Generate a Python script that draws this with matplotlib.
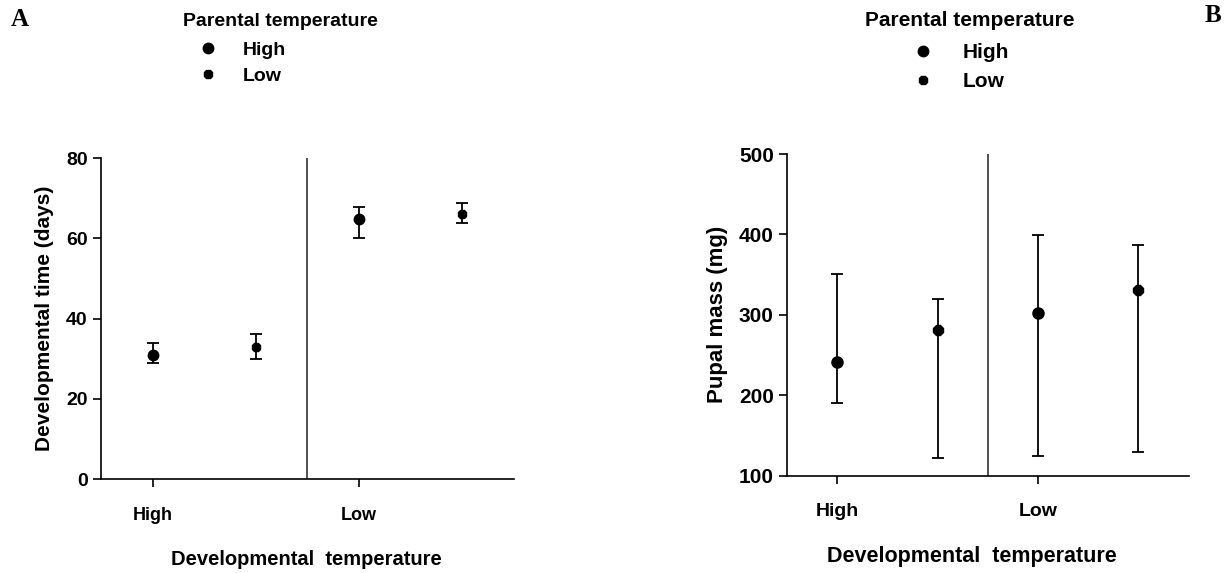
"""
Developmental time and pupal mass by developmental / parental temperature
"""

import numpy as np
import matplotlib.pyplot as plt
from matplotlib.lines import Line2D

dev_temps = ['High', 'Low']
par_temps = ['High', 'Low']

# order: (dev High, par High), (dev High, par Low), (dev Low, par High), (dev Low, par Low)
dev_time_mean = [30.9, 32.9, 64.8, 66.0]
dev_time_upper = [33.9, 36.2, 67.9, 68.9]
dev_time_lower = [28.9, 29.9, 60.1, 63.9]

pupal_mean = [242, 281, 302, 331]
pupal_upper = [351, 320, 399, 387]
pupal_lower = [190, 122, 125, 130]

plt.rcParams['font.family'] = ['Liberation Sans', 'DejaVu Sans']
plt.rcParams['font.weight'] = 'bold'

fig = plt.figure(figsize=(12.29, 5.73), dpi=100)
ax_a = fig.add_axes([0.0822, 0.164, 0.336, 0.560])
ax_b = fig.add_axes([0.6404, 0.1698, 0.3268, 0.5614])

markers = {'High': ('o', 7.5), 'Low': ('8', 7.0)}


def draw_panel(ax, mean, lower, upper, ylim, yticks, ylabel, fs, ypad, xlab_x):
    for i, dt in enumerate(dev_temps):
        for j, pt in enumerate(par_temps):
            k = 2 * i + j
            m, ms = markers[pt]
            ax.errorbar([k], [mean[k]],
                        yerr=[[mean[k] - lower[k]], [upper[k] - mean[k]]],
                        fmt=m, ms=ms if fs < 14 else ms + 0.5, color='black',
                        ecolor='black', elinewidth=1.3, capsize=4.3, capthick=1.3)
    ax.axvline(1.5, color='#333333', lw=1.2)
    ax.set_xlim(-0.5, 3.5)
    ax.set_ylim(*ylim)
    ax.set_yticks(yticks)
    ax.set_xticks([0, 2])
    ax.set_xticklabels(dev_temps, fontsize=fs, fontweight='bold')
    ax.tick_params(axis='y', labelsize=fs + 1, length=6, width=1.2)
    ax.tick_params(axis='x', length=6, width=1.2, pad=14)
    for s in ['top', 'right']:
        ax.spines[s].set_visible(False)
    for s in ['left', 'bottom']:
        ax.spines[s].set_linewidth(1.2)
    ax.set_ylabel(ylabel, fontsize=fs + 2, fontweight='bold', labelpad=ypad)
    ax.set_xlabel('Developmental  temperature', fontsize=fs + 1.5,
                  fontweight='bold', labelpad=22)
    ax.xaxis.set_label_coords(xlab_x, -0.22)


draw_panel(ax_a, dev_time_mean, dev_time_lower, dev_time_upper,
           (0, 80), [0, 20, 40, 60, 80], 'Developmental time (days)', 13, 9,
           0.497)
draw_panel(ax_b, pupal_mean, pupal_lower, pupal_upper,
           (100, 500), [100, 200, 300, 400, 500], 'Pupal mass (mg)', 14, 8,
           0.46)

# legends
handles = [Line2D([], [], ls='none', marker=markers[p][0], ms=markers[p][1],
                  color='black') for p in par_temps]

fig.text(280 / 1229, 1 - 21 / 573, 'Parental temperature', ha='center',
         va='center', fontsize=14, fontweight='bold')
fig.legend(handles, par_temps, loc='upper left',
           bbox_to_anchor=(198 / 1229, 1 - 41 / 573), frameon=False,
           fontsize=14, handlelength=1.0, handletextpad=1.3,
           labelspacing=0.45, borderpad=0, borderaxespad=0)

fig.text(970 / 1229, 1 - 20 / 573, 'Parental temperature', ha='center',
         va='center', fontsize=15, fontweight='bold')
fig.legend(handles, par_temps, loc='upper left',
           bbox_to_anchor=(913 / 1229, 1 - 43 / 573), frameon=False,
           fontsize=15, handlelength=1.0, handletextpad=1.4,
           labelspacing=0.5, borderpad=0, borderaxespad=0)

fig.text(11 / 1229, 1 - 19 / 573, 'A', fontsize=18, fontweight='bold',
         family='Liberation Serif', va='center', ha='left')
fig.text(1205 / 1229, 1 - 16 / 573, 'B', fontsize=18, fontweight='bold',
         family='Liberation Serif', va='center', ha='left')

fig.savefig('out.png', dpi=100)
